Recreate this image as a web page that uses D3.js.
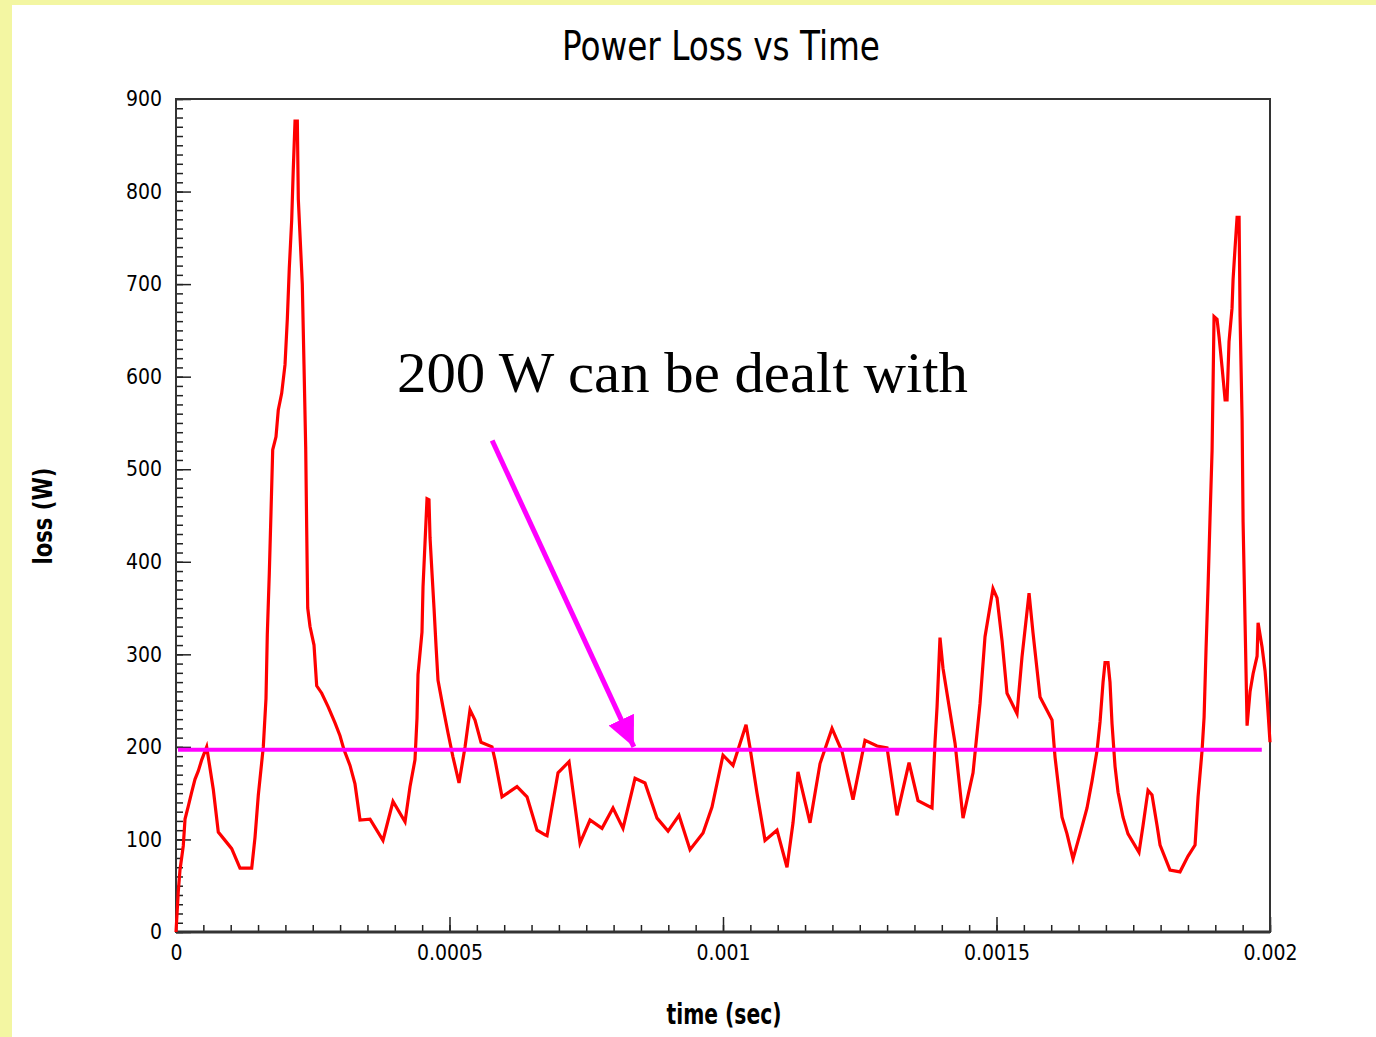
<!DOCTYPE html>
<html lang="en">
<head>
<meta charset="utf-8">
<title>Power Loss vs Time</title>
<script src="https://d3js.org/d3.v7.min.js"></script>
<style>
  html, body { margin: 0; padding: 0; background: #f3f6a2; }
  svg { display: block; }
</style>
</head>
<body>
<script type="text/javascript">
var w = 1376;
var h = 1037;

// time in microseconds, loss in W
var timeMicros = [0, 4.2, 7.3, 13.3, 16.5, 22.5, 28.7, 34.7, 40.8, 47, 56.1, 68.2, 77.3, 89.6, 101.8, 117, 138.4, 144.4, 150.5, 159.6,
  164.5, 166.9, 170.6, 173.7, 176.8, 182.8, 187, 193.2, 199.3, 203.5, 207.1, 211.5, 214.4, 217.6, 221.8, 223.6, 230.9, 234, 237.1, 238.9,
  240.8, 245, 252.3, 257.2, 266.4, 278.4, 290.7, 299.8, 307.1, 318.1, 327.2, 336.4, 354.7, 378.4, 396.7, 418.7, 427.8, 436.9, 440.6, 442.4,
  449.7, 451.6, 455.2, 458.9, 462.5, 464.4, 468, 471.7, 475.3, 479, 488.1, 497.3, 506.4, 517.4, 528.4, 537.5, 546.6, 557.6, 577.7, 583.2,
  596, 623.4, 641.7, 660, 674.6, 678.3, 698.4, 718.5, 738.6, 756.9, 778.8, 798.9, 817.2, 839.2, 857.4, 879.4, 899.5, 919.6, 939.7, 963.5,
  979.9, 1000, 1018.3, 1042.1, 1049.4, 1062.2, 1076.8, 1098.7, 1117, 1128, 1137.1, 1159.1, 1177.4, 1199.3, 1217.6, 1237.7, 1259.6, 1281.6, 1299.9, 1318.1,
  1340.1, 1356.5, 1382.1, 1387.6, 1391.3, 1396.7, 1402.2, 1411.4, 1424.2, 1438.8, 1457.1, 1469.9, 1479, 1493.6, 1501, 1510.1, 1519.2, 1537.5, 1546.6, 1559.5,
  1566.8, 1579.6, 1601.5, 1607, 1619.8, 1628.9, 1639.9, 1652.7, 1665.5, 1674.6, 1683.8, 1689.3, 1694.8, 1698.4, 1703.9, 1707.5, 1711.2, 1716.7, 1722.2, 1731.3,
  1740.4, 1760.5, 1767.9, 1777, 1784.3, 1793.5, 1799, 1817.2, 1835.5, 1850.2, 1863, 1868.5, 1875.8, 1879.5, 1883.1, 1886.8, 1890.4, 1894.1, 1895.9, 1897.7,
  1903.2, 1906.9, 1912.4, 1917.9, 1921.5, 1925.1, 1930.6, 1932.5, 1936.1, 1939.8, 1943.5, 1945.3, 1949, 1950.8, 1954.5, 1958.1, 1963.6, 1969.1, 1976.4, 1978.2,
  1985.5, 1991, 1994.7, 2000];

var lossW = [0, 44, 67, 93, 122, 136, 151, 165, 174, 186, 200, 154, 108, 99, 90, 69, 69, 102, 148, 200,
  252, 321, 388, 454, 521, 535, 564, 582, 613, 662, 717, 769, 824, 876, 876, 792, 700, 613, 524, 437,
  350, 330, 310, 266, 258, 243, 226, 212, 197, 180, 160, 121, 122, 99, 141, 119, 157, 186, 231, 278,
  324, 373, 420, 468, 467, 426, 388, 350, 310, 272, 243, 215, 189, 161, 200, 240, 229, 205, 200, 186,
  146, 157, 146, 110, 105, 104, 172, 184, 96, 121, 112, 134, 112, 166, 161, 123, 109, 126, 89, 107,
  135, 191, 180, 224, 199, 150, 99, 110, 70, 118, 173, 118, 182, 220, 195, 143, 207, 201, 199, 126,
  183, 142, 134, 205, 243, 318, 285, 251, 204, 123, 172, 247, 319, 371, 361, 315, 258, 236, 297, 366,
  323, 254, 229, 189, 124, 106, 79, 106, 134, 163, 196, 227, 270, 291, 291, 270, 225, 179, 151, 124,
  106, 86, 115, 153, 148, 115, 94, 67, 65, 82, 94, 146, 196, 232, 306, 374, 448, 520, 591, 665,
  662, 643, 610, 575, 575, 638, 674, 705, 739, 772, 772, 665, 553, 443, 332, 223, 260, 279, 298, 334,
  308, 282, 253, 205];

var xMajorTicks = [0, 0.0005, 0.001, 0.0015, 0.002];
var xTickLabels = ["0", "0.0005", "0.001", "0.0015", "0.002"];
var yMajorTicks = [0, 100, 200, 300, 400, 500, 600, 700, 800, 900];

// annotation: threshold line and arrow (seconds, W)
var thresholdW = 197;
var thresholdSpan = [0.0000037, 0.001985];
var arrowFrom = [0.000578, 531];
var arrowTo = [0.000837, 200];
var noteText = "200 W can be dealt with";
var notePos = [0.000404, 583];

var margin = {top: 99, right: 106, bottom: 105, left: 176};
var plotW = w - margin.left - margin.right;
var plotH = h - margin.top - margin.bottom;

var data = timeMicros.map(function (t, i) { return {t: t / 1e6, v: lossW[i]}; });

var svg = d3.select("body").append("svg")
  .attr("width", w)
  .attr("height", h);

// white page area, pale yellow strip on left and top
svg.append("rect")
  .attr("x", 12).attr("y", 5)
  .attr("width", w - 12).attr("height", h - 5)
  .attr("fill", "#ffffff");

var xScale = d3.scaleLinear().domain([0, 0.002]).range([0, plotW]);
var yScale = d3.scaleLinear().domain([0, 900]).range([plotH, 0]);

var g = svg.append("g").attr("transform", "translate(" + margin.left + "," + margin.top + ")");

var tickFont = "'Liberation Sans Narrow', 'DejaVu Sans Condensed', sans-serif";

// minor ticks
var xMinor = d3.range(0, 41).map(function (i) { return i * 0.00005; });
var yMinor = d3.range(0, 91).map(function (i) { return i * 10; });

g.append("g")
  .attr("transform", "translate(0," + plotH + ")")
  .call(d3.axisBottom(xScale).tickValues(xMinor).tickSize(-7).tickFormat(""))
  .call(function (s) { s.select(".domain").remove(); s.selectAll("line").attr("stroke", "#222").attr("stroke-width", 1.5); });

g.append("g")
  .call(d3.axisLeft(yScale).tickValues(yMinor).tickSize(-7).tickFormat(""))
  .call(function (s) { s.select(".domain").remove(); s.selectAll("line").attr("stroke", "#222").attr("stroke-width", 1.5); });

// major ticks with labels
g.append("g")
  .attr("transform", "translate(0," + plotH + ")")
  .call(d3.axisBottom(xScale).tickValues(xMajorTicks).tickSize(-15).tickPadding(13)
    .tickFormat(function (d, i) { return xTickLabels[i]; }))
  .call(function (s) {
    s.select(".domain").remove();
    s.selectAll("line").attr("stroke", "#222").attr("stroke-width", 1.5);
    s.selectAll("text").attr("font-family", tickFont).attr("font-size", "21px").attr("fill", "#000");
  });

g.append("g")
  .call(d3.axisLeft(yScale).tickValues(yMajorTicks).tickSize(-15).tickPadding(14))
  .call(function (s) {
    s.select(".domain").remove();
    s.selectAll("line").attr("stroke", "#222").attr("stroke-width", 1.5);
    s.selectAll("text").attr("font-family", tickFont).attr("font-size", "21px").attr("fill", "#000");
  });

// frame
g.append("rect")
  .attr("x", 0).attr("y", 0)
  .attr("width", plotW).attr("height", plotH)
  .attr("fill", "none")
  .attr("stroke", "#333")
  .attr("stroke-width", 2);
g.append("line")
  .attr("x1", 0).attr("x2", plotW)
  .attr("y1", plotH).attr("y2", plotH)
  .attr("stroke", "#333").attr("stroke-width", 3);

// the loss curve
var line = d3.line()
  .x(function (d) { return xScale(d.t); })
  .y(function (d) { return yScale(d.v); });

g.append("path")
  .datum(data)
  .attr("d", line)
  .attr("fill", "none")
  .attr("stroke", "#ff0000")
  .attr("stroke-width", 3.2)
  .attr("stroke-linejoin", "miter");

// threshold line
g.append("line")
  .attr("x1", xScale(thresholdSpan[0])).attr("x2", xScale(thresholdSpan[1]))
  .attr("y1", yScale(thresholdW)).attr("y2", yScale(thresholdW))
  .attr("stroke", "#ff00ff")
  .attr("stroke-width", 4);

// arrow
svg.append("defs").append("marker")
  .attr("id", "head")
  .attr("markerUnits", "userSpaceOnUse")
  .attr("markerWidth", 34).attr("markerHeight", 34)
  .attr("refX", 30).attr("refY", 14)
  .attr("orient", "auto")
  .append("path")
  .attr("d", "M0,0 L30,14 L0,28 Z")
  .attr("fill", "#ff00ff");

g.append("line")
  .attr("x1", xScale(arrowFrom[0])).attr("y1", yScale(arrowFrom[1]))
  .attr("x2", xScale(arrowTo[0])).attr("y2", yScale(arrowTo[1]))
  .attr("stroke", "#ff00ff")
  .attr("stroke-width", 5)
  .attr("marker-end", "url(#head)");

g.append("text")
  .attr("x", xScale(notePos[0])).attr("y", yScale(notePos[1]))
  .attr("font-family", "'Liberation Serif', 'Times New Roman', serif")
  .attr("font-size", "56px")
  .attr("textLength", 571)
  .attr("lengthAdjust", "spacingAndGlyphs")
  .attr("fill", "#000")
  .text(noteText);

// title and axis titles
svg.append("text")
  .attr("x", 721).attr("y", 60)
  .attr("text-anchor", "middle")
  .attr("font-family", tickFont)
  .attr("font-size", "40px")
  .attr("textLength", 318)
  .attr("lengthAdjust", "spacingAndGlyphs")
  .attr("fill", "#000")
  .text("Power Loss vs Time");

svg.append("text")
  .attr("x", 724).attr("y", 1024)
  .attr("text-anchor", "middle")
  .attr("font-family", tickFont)
  .attr("font-weight", "bold")
  .attr("font-size", "28px")
  .attr("textLength", 115)
  .attr("lengthAdjust", "spacingAndGlyphs")
  .attr("fill", "#000")
  .text("time (sec)");

svg.append("text")
  .attr("transform", "translate(52,516) rotate(-90)")
  .attr("text-anchor", "middle")
  .attr("font-family", tickFont)
  .attr("font-weight", "bold")
  .attr("font-size", "27px")
  .attr("textLength", 97)
  .attr("lengthAdjust", "spacingAndGlyphs")
  .attr("fill", "#000")
  .text("loss (W)");
</script>
</body>
</html>
